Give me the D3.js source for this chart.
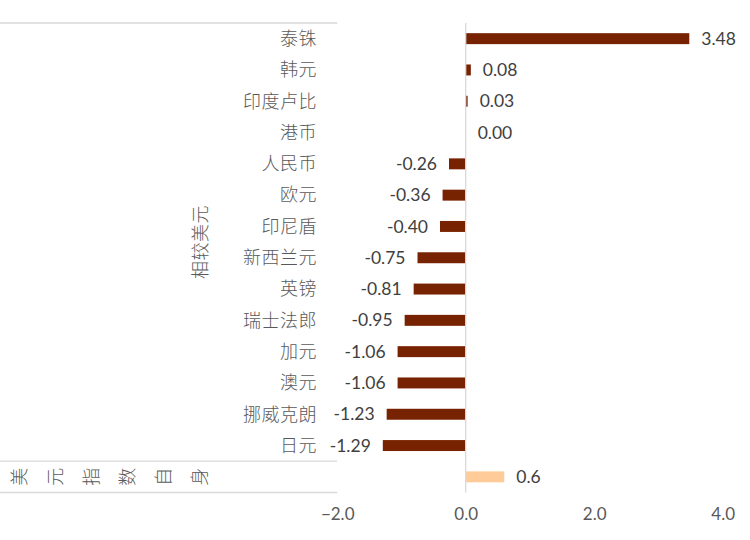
<!DOCTYPE html>
<html><head><meta charset="utf-8">
<script src="https://cdn.jsdelivr.net/npm/d3@7"></script>
<style>
html,body{margin:0;padding:0;background:#fff;}
svg{display:block;}
text{font-family:Lato,"Noto Sans CJK SC",sans-serif;}
.cjk{font-family:"Noto Sans CJK SC",sans-serif;font-weight:300;}
</style></head><body>
<svg id="chart" width="750" height="540"></svg>
<script>
const categories = ["泰铢","韩元","印度卢比","港币","人民币","欧元","印尼盾","新西兰元","英镑","瑞士法郎","加元","澳元","挪威克朗","日元","美元指数自身"];
const values = [3.48,0.08,0.03,0.00,-0.26,-0.36,-0.40,-0.75,-0.81,-0.95,-1.06,-1.06,-1.23,-1.29,0.6];
const valueLabels = ["3.48","0.08","0.03","0.00","-0.26","-0.36","-0.40","-0.75","-0.81","-0.95","-1.06","-1.06","-1.23","-1.29","0.6"];
const groupLabel = "相较美元";
const indexLabelChars = ["美","元","指","数","自","身"];
const xTicks = [-2,0,2,4];

const svg = d3.select("#chart");
const x = d3.scaleLinear().domain([-2,4]).range([337.2,722.7]);
const y = d3.scaleBand().domain(categories).range([23,492.5]).paddingInner(0.65).paddingOuter(0.325);
const band = d3.scaleBand().domain(categories).range([23,492.5]);
const last = categories[categories.length-1];

// left grid lines
const gridCol = "#d9d9d9";
[23, band(last), 492.5].forEach(yy=>{
  svg.append("line").attr("x1",0).attr("x2",x(-2)).attr("y1",yy).attr("y2",yy)
    .attr("stroke",gridCol).attr("stroke-width",1.3);
});

// bars
svg.append("g").selectAll("rect").data(categories).join("rect")
  .attr("x",(d,i)=>x(Math.min(0,values[i])))
  .attr("width",(d,i)=>Math.abs(x(values[i])-x(0)))
  .attr("y",d=>y(d))
  .attr("height",y.bandwidth())
  .attr("fill",d=>d===last?"#FFCC99":"#772200");

// zero line
svg.append("line").attr("x1",x(0)).attr("x2",x(0)).attr("y1",23).attr("y2",492.5)
  .attr("stroke",gridCol).attr("stroke-width",1.3);

// value labels
svg.append("g").selectAll("text").data(categories).join("text")
  .attr("x",(d,i)=>values[i]<0 ? x(values[i])-12 : x(values[i])+12)
  .attr("y",d=>band(d)+band.bandwidth()/2)
  .attr("dy","0.35em")
  .attr("text-anchor",(d,i)=>values[i]<0?"end":"start")
  .attr("font-size",17.5).attr("fill","#404040")
  .text((d,i)=>valueLabels[i]);

// category labels
svg.append("g").selectAll("text").data(categories.slice(0,-1)).join("text")
  .attr("class","cjk")
  .attr("x",317)
  .attr("y",d=>band(d)+band.bandwidth()/2)
  .attr("dy","0.35em")
  .attr("text-anchor","end")
  .attr("font-size",18).attr("letter-spacing",0.5).attr("fill","#595959")
  .text(d=>d);

// group label
const gy = (23+band(last))/2;
svg.append("text").attr("class","cjk")
  .attr("transform",`translate(201,${gy}) rotate(-90)`)
  .attr("text-anchor","middle").attr("dy","0.35em")
  .attr("font-size",18).attr("letter-spacing",0.5).attr("fill","#595959")
  .text(groupLabel);

// index row label, each char rotated
const iy = band(last)+band.bandwidth()/2;
svg.append("g").selectAll("text").data(indexLabelChars).join("text")
  .attr("class","cjk")
  .attr("transform",(d,i)=>`translate(${20+i*36},${iy}) rotate(-90)`)
  .attr("text-anchor","middle").attr("dy","0.35em")
  .attr("font-size",18).attr("fill","#595959")
  .text(d=>d);

// x axis
const ax = svg.append("g").attr("transform","translate(0,505)")
  .call(d3.axisBottom(x).tickValues(xTicks).tickSize(0).tickFormat(d3.format(".1f")));
ax.select(".domain").remove();
ax.selectAll("text").attr("font-size",17).attr("fill","#595959")
  .attr("font-family","Lato,sans-serif");
</script>
</body></html>
